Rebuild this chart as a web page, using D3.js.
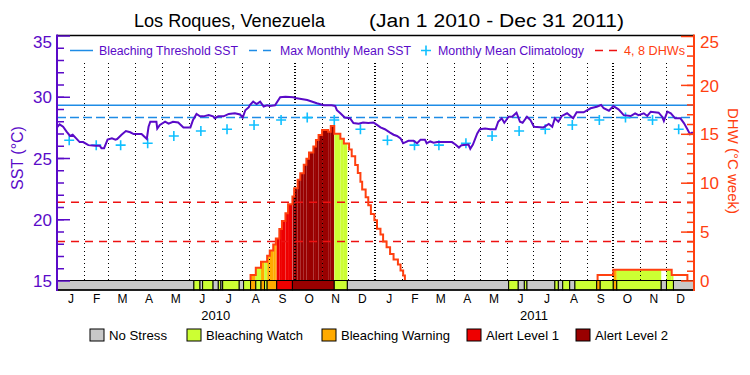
<!DOCTYPE html>
<html>
<head>
<meta charset="utf-8">
<script src="https://cdn.jsdelivr.net/npm/d3@7"></script>
<style>
body { margin: 0; background: #fff; }
text { font-family: "Liberation Sans", Arial, sans-serif; }
</style>
</head>
<body>
<div id="chart"></div>
<script>
// days are counted from Jan 1 2010
var sstDay = [0,3,7,11,15,18,22,26,30,36,44,49,51,54,58,63,67,69,74,79,84,88,97,100,103,105,107,114,115,118,124,128,133,139,145,153,156,160,164,168,174,179,181,185,191,197,204,210,213,216,220,221,225,229,233,237,241,244,250,256,262,271,275,287,298,306,315,319,321,325,330,336,340,346,351,357,363,367,371,376,382,386,390,394,397,403,409,413,417,422,424,428,432,436,453,457,461,464,472,474,477,482,485,491,497,503,506,510,513,518,522,527,531,534,539,543,547,558,564,568,571,575,579,585,592,596,604,612,619,624,627,633,638,644,650,658,663,667,673,677,681,690,694,696,700,704,709,715,719,723,726,728,730];
var sstValue = [27.5,27.75,27.55,27.15,26.8,26.9,26.6,26.3,26.3,26.05,26.0,26.0,25.8,25.8,26.5,26.6,26.5,26.55,26.9,27.2,27.1,26.95,26.95,26.75,26.55,27.55,27.96,27.96,27.4,27.7,27.96,27.8,27.96,27.9,27.5,27.5,28.1,28.6,28.4,28.4,28.5,28.4,28.25,28.4,28.4,28.6,28.65,28.55,28.3,28.9,29.15,29.3,29.6,29.4,29.6,29.2,29.3,29.25,29.3,29.96,30.0,29.96,29.87,29.73,29.47,29.3,29.3,29.25,28.9,28.65,28.3,28.25,27.85,27.8,27.9,27.85,27.9,27.7,27.5,27.35,27.07,26.9,26.8,26.6,26.2,26.4,26.4,26.2,26.5,26.5,26.2,26.35,26.25,26.3,26.3,26.1,25.85,26.05,26.1,25.75,26.1,27.0,27.35,27.4,27.35,27.35,27.96,28.24,27.88,28.37,28.37,28.7,27.96,27.88,28.37,28.1,27.55,27.5,27.78,27.55,28.24,27.96,28.43,28.65,28.24,28.73,28.73,29.06,29.19,29.33,29.06,28.86,29.24,28.97,28.5,28.43,28.65,28.5,28.65,28.43,28.78,28.7,28.37,28.02,28.78,28.65,28.24,28.24,27.85,27.35,26.95,27.07,27.07];

// monthly mean climatology, Jan..Dec
var climValue = [26.45,26.05,26.05,26.2,26.8,27.2,27.35,27.7,28.1,28.3,28.1,27.35];
var mmm = 28.3;
var threshold = 29.3;
var dhwLines = [4, 8];

// degree heating weeks, step starts
var dhwDay = [222,228,234,241,244,248,251,255,258,262,265,270,272,276,279,283,286,289,294,297,300,304,311,314,318,325,329,335,338,342,345,348,350,354,357,360,364,367,371,374,378,382,386,391,394,397,399,620,638,705,723];
var dhwValue = [0.55,1.3,1.92,2.53,3.08,3.69,4.3,5.26,6.08,6.87,7.8,8.58,9.44,10.3,10.97,11.83,12.44,13.1,13.7,14.36,14.87,15.4,15.2,15.8,15.0,14.5,14.0,13.4,12.7,11.8,11.0,10.1,9.3,8.5,7.7,6.8,6.15,5.3,4.7,4.0,3.4,2.7,2.15,1.64,1.03,0.51,0,0.55,1.1,0.55,0];
var dhwFill = [1,1,1,1,1,1,1,1,1,1,1,1,1,1,1,1,1,1,1,1,1,1,1,1,1,1,1,1,1,1,1,1,1,1,1,1,1,1,1,1,1,1,1,1,1,1,0,0,1,1,0];

// stress level periods (start day, level)
var stressDay = [0,157,164,167,179,185,188,190,209,214,222,228,234,238,241,252,270,318,333,518,529,536,539,571,575,580,588,594,619,623,638,642,693,699,707];
var stressLevel = [0,1,0,1,0,1,0,1,0,1,2,1,2,1,2,3,4,1,0,1,0,1,0,1,0,1,0,1,2,1,2,1,0,1,0];
var lastDay = 730;

var stressNames = ["No Stress", "Bleaching Watch", "Bleaching Warning", "Alert Level 1", "Alert Level 2"];
var stressColors = ["#c8c8c8", "#ccff33", "#ffaa00", "#ee0000", "#990000"];
var monthLetters = ["J","F","M","A","M","J","J","A","S","O","N","D"];
var years = [2010, 2011];

var purple = "#5a0ac8", orange = "#ff4010", blue = "#1e8ce6", cyan = "#10c0ff", red = "#ee1111";

var svg = d3.select("#chart").append("svg")
    .attr("width", 750)
    .attr("height", 375);

var t0 = new Date(2010, 0, 1);
function day(d) { return d3.timeDay.offset(t0, d); }

var x = d3.scaleTime().domain([t0, new Date(2012, 0, 1)]).range([57, 693.5]);
var ySst = d3.scaleLinear().domain([15, 35]).range([280.5, 35.5]);
var yDhw = d3.scaleLinear().domain([0, 25]).range([280.5, 36]);
var pLeft = 57, pRight = 694, pTop = 35.5, pBottom = 280.5, stripBottom = 290;

// title
svg.append("text").attr("x", 134).attr("y", 27).style("font-size", "18px")
    .attr("textLength", 191).attr("lengthAdjust", "spacingAndGlyphs").text("Los Roques, Venezuela");
svg.append("text").attr("x", 369).attr("y", 27).style("font-size", "18px")
    .attr("textLength", 255).attr("lengthAdjust", "spacingAndGlyphs").text("(Jan 1 2010 - Dec 31 2011)");

svg.append("defs").append("clipPath").attr("id", "plot")
    .append("rect").attr("x", pLeft).attr("y", pTop).attr("width", pRight - pLeft).attr("height", pBottom - pTop);

// stress periods
var periods = stressDay.map(function (d, i) {
    return { start: d, end: i < stressDay.length - 1 ? stressDay[i + 1] : lastDay, level: stressLevel[i] };
});

// DHW fill: stress colours clipped under the DHW steps
var dhwClip = svg.select("defs").append("clipPath").attr("id", "dhwclip");
dhwDay.forEach(function (d, i) {
    if (i == dhwDay.length - 1 || !dhwFill[i] || dhwValue[i] <= 0) return;
    dhwClip.append("rect")
        .attr("x", x(day(d)))
        .attr("y", yDhw(dhwValue[i]))
        .attr("width", x(day(dhwDay[i + 1])) - x(day(d)))
        .attr("height", yDhw(0) - yDhw(dhwValue[i]));
});
svg.append("g").attr("clip-path", "url(#dhwclip)")
    .selectAll("rect")
    .data(periods.filter(function (p) { return p.level > 0; }))
    .enter().append("rect")
    .attr("x", function (p) { return x(day(p.start)); })
    .attr("width", function (p) { return x(day(p.end)) - x(day(p.start)); })
    .attr("y", pTop)
    .attr("height", pBottom - pTop)
    .style("fill", function (p) { return stressColors[p.level]; });

// dotted month lines
var monthStarts = d3.timeMonth.range(new Date(2010, 1, 1), new Date(2012, 0, 1));
function boldMonth(d) { return d.getMonth() == 9 || d.getMonth() == 0; }
svg.append("g").selectAll("line")
    .data(monthStarts)
    .enter().append("line")
    .attr("x1", function (d) { return Math.round(x(d)) + (boldMonth(d) ? 0 : 0.5); })
    .attr("x2", function (d) { return Math.round(x(d)) + (boldMonth(d) ? 0 : 0.5); })
    .attr("y1", 63)
    .attr("y2", pBottom)
    .style("stroke", "#000")
    .style("stroke-width", function (d) { return boldMonth(d) ? 2 : 1; })
    .style("stroke-dasharray", function (d) { return boldMonth(d) ? "1,2" : "1,3"; });

// 4 and 8 DHW lines
svg.append("g").selectAll("line")
    .data(dhwLines)
    .enter().append("line")
    .attr("x1", pLeft).attr("x2", pRight)
    .attr("y1", function (d) { return yDhw(d); })
    .attr("y2", function (d) { return yDhw(d); })
    .style("stroke", red).style("stroke-width", 1.5).style("stroke-dasharray", "8,6");

// DHW outline, one path per event
var events = [], cur = null;
dhwDay.forEach(function (d, i) {
    if (!cur) { cur = [[d, 0]]; }
    cur.push([d, dhwValue[i]]);
    if (dhwValue[i] == 0) { events.push(cur); cur = null; }
});
var dhwLine = d3.line()
    .x(function (d) { return x(day(d[0])); })
    .y(function (d) { return yDhw(d[1]); })
    .curve(d3.curveStepAfter);
svg.append("g").attr("clip-path", "url(#plot)").selectAll("path")
    .data(events)
    .enter().append("path")
    .attr("d", dhwLine)
    .style("fill", "none").style("stroke", orange).style("stroke-width", 2);

// threshold and MMM
svg.append("line").attr("x1", pLeft).attr("x2", pRight)
    .attr("y1", ySst(threshold)).attr("y2", ySst(threshold))
    .style("stroke", blue).style("stroke-width", 1.5);
svg.append("line").attr("x1", pLeft).attr("x2", pRight)
    .attr("y1", ySst(mmm)).attr("y2", ySst(mmm))
    .style("stroke", blue).style("stroke-width", 1.5).style("stroke-dasharray", "9,4");

// climatology crosses
var clim = [];
years.forEach(function (yr) {
    climValue.forEach(function (v, m) { clim.push({ date: new Date(yr, m, 15), v: v }); });
});
svg.append("g").selectAll("path")
    .data(clim)
    .enter().append("path")
    .attr("transform", function (d) { return "translate(" + x(d.date) + "," + ySst(d.v) + ")"; })
    .attr("d", "M-5,0H5M0,-5V5")
    .style("stroke", cyan).style("stroke-width", 1.6);

// SST line
var sstLine = d3.line()
    .x(function (d, i) { return x(day(d)); })
    .y(function (d, i) { return ySst(sstValue[i]); });
svg.append("path")
    .attr("clip-path", "url(#plot)")
    .attr("d", sstLine(sstDay))
    .style("fill", "none").style("stroke", purple).style("stroke-width", 2);

// stress strip
svg.append("g").selectAll("rect")
    .data(periods)
    .enter().append("rect")
    .attr("x", function (p) { return x(day(p.start)); })
    .attr("width", function (p) { return x(day(p.end)) - x(day(p.start)); })
    .attr("y", pBottom)
    .attr("height", stripBottom - pBottom)
    .style("fill", function (p) { return stressColors[p.level]; })
    .style("stroke", "#000").style("stroke-width", 1);

// frame
svg.append("line").attr("x1", pLeft).attr("x2", pRight).attr("y1", pTop).attr("y2", pTop)
    .style("stroke", "#000").style("stroke-width", 1.5);
svg.append("line").attr("x1", pLeft).attr("x2", pRight).attr("y1", stripBottom).attr("y2", stripBottom)
    .style("stroke", "#000").style("stroke-width", 1.5);

// left axis (SST)
var gl = svg.append("g").attr("transform", "translate(" + pLeft + ",0)");
gl.append("g").call(d3.axisLeft(ySst).tickValues(d3.range(16, 35)).tickSize(-7).tickFormat(""));
gl.append("g").call(d3.axisLeft(ySst).tickValues([15, 20, 25, 30, 35]).tickSize(-13).tickPadding(5));
gl.selectAll(".domain").remove();
gl.selectAll("line").style("stroke", purple).style("stroke-width", 1.5);
gl.selectAll("text").style("fill", purple).style("font-size", "17px").attr("dy", "0.36em");
gl.selectAll("text").filter(function (d) { return d == 35; }).attr("dy", "0.7em");
gl.append("line").attr("y1", pTop - 1).attr("y2", stripBottom + 1)
    .style("stroke", purple).style("stroke-width", 2);
svg.append("text")
    .attr("transform", "translate(23,158) rotate(-90)")
    .attr("text-anchor", "middle")
    .style("fill", purple).style("font-size", "16px")
    .text("SST (\u00b0C)");

// right axis (DHW)
var gr = svg.append("g").attr("transform", "translate(" + pRight + ",0)");
gr.append("g").call(d3.axisRight(yDhw).tickValues(d3.range(1, 25)).tickSize(-7).tickFormat(""));
gr.append("g").call(d3.axisRight(yDhw).tickValues([0, 5, 10, 15, 20, 25]).tickSize(-13).tickPadding(6));
gr.selectAll(".domain").remove();
gr.selectAll("line").style("stroke", orange).style("stroke-width", 1.5);
gr.selectAll("text").style("fill", orange).style("font-size", "17px").attr("dy", "0.36em");
gr.selectAll("text").filter(function (d) { return d == 25; }).attr("dy", "0.7em");
gr.append("line").attr("y1", pTop - 1).attr("y2", stripBottom + 1)
    .style("stroke", orange).style("stroke-width", 2);
svg.append("text")
    .attr("transform", "translate(728,161) rotate(90)")
    .attr("text-anchor", "middle")
    .style("fill", orange).style("font-size", "15px")
    .text("DHW (\u00b0C week)");

// month letters and years
var midMonths = [];
years.forEach(function (yr) {
    d3.range(12).forEach(function (m) {
        var a = new Date(yr, m, 1), b = new Date(yr, m + 1, 1);
        midMonths.push(new Date((a.getTime() + b.getTime()) / 2));
    });
});
var gx = svg.append("g").attr("transform", "translate(0," + stripBottom + ")")
    .call(d3.axisBottom(x).tickValues(midMonths).tickSize(0).tickPadding(4)
        .tickFormat(function (d) { return monthLetters[d.getMonth()]; }));
gx.select(".domain").remove();
gx.selectAll("text").style("font-size", "12px").style("fill", "#000");

svg.append("g").selectAll("text")
    .data(years)
    .enter().append("text")
    .attr("x", function (yr) { return x(new Date(yr, 6, 2)); })
    .attr("y", 320)
    .attr("text-anchor", "middle")
    .style("font-size", "13px")
    .text(function (yr) { return yr; });

// top legend
var lg = svg.append("g");
lg.append("line").attr("x1", 70).attr("x2", 93).attr("y1", 50.5).attr("y2", 50.5)
    .style("stroke", blue).style("stroke-width", 1.5);
lg.append("text").attr("x", 99).attr("y", 55).attr("textLength", 139).text("Bleaching Threshold SST");
lg.append("line").attr("x1", 249).attr("x2", 273).attr("y1", 50.5).attr("y2", 50.5)
    .style("stroke", blue).style("stroke-width", 1.5).style("stroke-dasharray", "8,6");
lg.append("text").attr("x", 280).attr("y", 55).attr("textLength", 131).text("Max Monthly Mean SST");
lg.append("path").attr("d", "M421,50.5H431M426,45.5V55.5").style("stroke", cyan).style("stroke-width", 1.6);
lg.append("text").attr("x", 438).attr("y", 55).attr("textLength", 146).text("Monthly Mean Climatology");
lg.append("line").attr("x1", 595).attr("x2", 619).attr("y1", 50.5).attr("y2", 50.5)
    .style("stroke", red).style("stroke-width", 1.5).style("stroke-dasharray", "8,6");
lg.append("text").attr("x", 624).attr("y", 55).attr("textLength", 61).text("4, 8 DHWs").attr("class", "dhwleg");
lg.selectAll("text").attr("lengthAdjust", "spacingAndGlyphs").style("font-size", "12px").style("fill", purple);
lg.select(".dhwleg").style("fill", orange);

// bottom legend
var legTextX = [109, 206, 341, 486, 595];
var legTextW = [58, 97, 109, 73, 73];
var bl = svg.append("g").selectAll("g")
    .data(stressNames)
    .enter().append("g")
    .attr("transform", function (d, i) { return "translate(" + legTextX[i] + ",329)"; });
bl.append("rect").attr("x", -19).attr("width", 14).attr("height", 12)
    .style("fill", function (d, i) { return stressColors[i]; })
    .style("stroke", "#000").style("stroke-width", 1);
bl.append("text").attr("x", 0).attr("y", 11)
    .style("font-size", "13px")
    .attr("textLength", function (d, i) { return legTextW[i]; })
    .attr("lengthAdjust", "spacingAndGlyphs")
    .text(function (d) { return d; });
</script>
</body>
</html>
